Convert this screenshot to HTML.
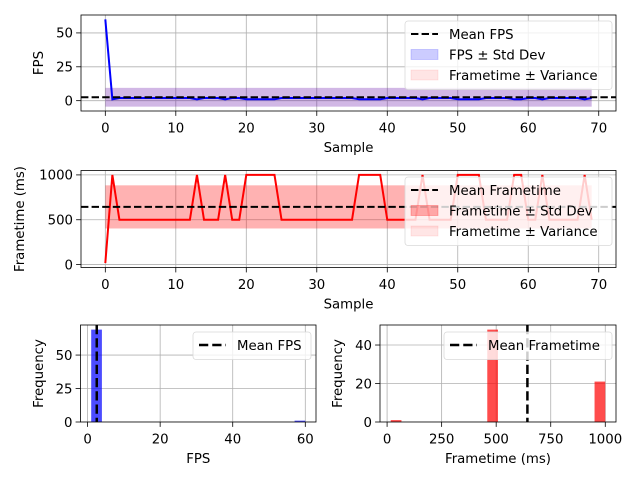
<!DOCTYPE html>
<html><head><meta charset="utf-8"><style>
html,body{margin:0;padding:0;background:#fff}
svg{display:block;font-family:"DejaVu Sans","Liberation Sans",sans-serif}
</style></head><body>
<svg id="chart" width="640" height="480" viewBox="0 0 640 480" xmlns="http://www.w3.org/2000/svg"></svg>
<script>
// ---- data ----
const frametimes = [16.67,1000,500,500,500,500,500,500,500,500,500,500,500,1000,500,500,500,1000,500,500,1000,1000,1000,1000,1000,500,500,500,500,500,500,500,500,500,500,500,1000,1000,1000,1000,500,500,500,500,500,1000,500,500,500,500,1000,1000,1000,1000,500,500,500,500,1000,1000,500,500,1000,500,500,500,500,500,1000,500];
const fpsValues = frametimes.map(f => Math.round(1000 / f));
const fpsHistCounts = [69,0,0,0,0,0,0,0,0,0,0,0,0,0,0,0,0,0,0,1];
const ftHistCounts = [1,0,0,0,0,0,0,0,0,48,0,0,0,0,0,0,0,0,0,21];
const sampleTicks = [0,10,20,30,40,50,60,70];
const fpsTicks = [0,25,50];
const ftTicks = [0,500,1000];
const fpsHistXTicks = [0,20,40,60];
const fpsHistYTicks = [0,25,50];
const ftHistXTicks = [0,250,500,750,1000];
const ftHistYTicks = [0,20,40];

const NS = "http://www.w3.org/2000/svg";
const svg = document.getElementById('chart');
function el(tag, attrs, parent, name) {
  const e = document.createElementNS(NS, tag);
  for (const k in attrs) e.setAttribute(k, attrs[k]);
  
  
  (parent || svg).appendChild(e);
  return e;
}
function txt(s, attrs, parent, name) { const t = el('text', attrs, parent, name); t.textContent = s; return t; }
function stats(a) { const m = a.reduce((x, y) => x + y, 0) / a.length; const v = a.reduce((x, y) => x + (y - m) * (y - m), 0) / a.length; return { m, v, s: Math.sqrt(v) }; }

function makeAxes(box, xr, yr, name) {
  const g = el('g', {}, svg, name);
  const sx = v => box.x + (v - xr[0]) / (xr[1] - xr[0]) * box.w;
  const sy = v => box.y + box.h - (v - yr[0]) / (yr[1] - yr[0]) * box.h;
  const clip = el('clipPath', { id: name + '-clip' }, g, name + '-clip');
  el('rect', { x: box.x, y: box.y, width: box.w, height: box.h }, clip, name + '-clip-rect');
  const plot = el('g', { 'clip-path': 'url(#' + name + '-clip)' }, g, name + '-plot');
  return { g, plot, sx, sy, box };
}
function grid(ax, xt, yt, xlabel, ylabel, ylx) {
  const b = ax.box;
  xt.forEach(t => {
    const x = ax.sx(t);
    el('line', { x1: x, x2: x, y1: b.y, y2: b.y + b.h, stroke: '#b0b0b0', 'stroke-width': 0.8 }, ax.plot, 'x-grid-line');
    el('line', { x1: x, x2: x, y1: b.y + b.h, y2: b.y + b.h + 4.9, stroke: '#000', 'stroke-width': 0.8 }, ax.g, 'x-tick');
    txt(String(t), { x: x, y: b.y + b.h + 21.5, 'font-size': 13.3, 'text-anchor': 'middle' }, ax.g, 'x-tick-label');
  });
  yt.forEach(t => {
    const y = ax.sy(t);
    el('line', { x1: b.x, x2: b.x + b.w, y1: y, y2: y, stroke: '#b0b0b0', 'stroke-width': 0.8 }, ax.plot, 'y-grid-line');
    el('line', { x1: b.x - 4.9, x2: b.x, y1: y, y2: y, stroke: '#000', 'stroke-width': 0.8 }, ax.g, 'y-tick');
    txt(String(t), { x: b.x - 8, y: y + 4.8, 'font-size': 13.3, 'text-anchor': 'end' }, ax.g, 'y-tick-label');
  });
  txt(xlabel, { x: b.x + b.w / 2, y: b.y + b.h + 41, 'font-size': 13.3, 'text-anchor': 'middle' }, ax.g, 'x-axis-title');
  txt(ylabel, { x: ylx, y: b.y + b.h / 2, 'font-size': 13.3, 'text-anchor': 'middle', transform: 'rotate(-90 ' + ylx + ' ' + (b.y + b.h / 2) + ')' }, ax.g, 'y-axis-title');
}
function frame(ax) { const b = ax.box; el('rect', { x: b.x, y: b.y, width: b.w, height: b.h, fill: 'none', stroke: '#000', 'stroke-width': 0.8 }, ax.g, 'axes-frame'); }
function legend(ax, x, y, w, items) {
  const h = items.length * 20.5 + 7;
  const lg = el('g', {}, ax.g, 'legend');
  el('rect', { x, y, width: w, height: h, rx: 3, fill: '#fff', 'fill-opacity': 0.8, stroke: '#d9d9d9', 'stroke-width': 0.8 }, lg, 'legend-frame');
  items.forEach((it, i) => {
    const cy = y + 13 + i * 20.5;
    if (it.type === 'line') el('line', { x1: x + 6, x2: x + 33, y1: cy, y2: cy, stroke: '#000', 'stroke-width': it.w || 2, 'stroke-dasharray': it.dash }, lg, 'legend-line');
    else el('rect', { x: x + 6, y: cy - 5, width: 27, height: 10, fill: it.color, 'fill-opacity': it.op, stroke: it.color, 'stroke-opacity': it.op, 'stroke-width': 0.8 }, lg, 'legend-patch');
    txt(it.label, { x: x + 44, y: cy + 4.8, 'font-size': 13.3 }, lg, 'legend-entry');
  });
}

const n = frametimes.length;
const fs = stats(fpsValues), ts = stats(frametimes);

// ---- top: FPS line ----
{
  const ymin = fs.m - fs.s, ymax = Math.max(...fpsValues);
  const pad = (ymax - ymin) * 0.05, xpad = (n - 1) * 0.05;
  const ax = makeAxes({ x: 81, y: 15, w: 535, h: 96 }, [-xpad, n - 1 + xpad], [ymin - pad, ymax + pad], 'fps-line-axes');
  grid(ax, sampleTicks, fpsTicks, 'Sample', 'FPS', 43);
  el('rect', { x: ax.sx(0), y: ax.sy(fs.m + fs.s), width: ax.sx(n - 1) - ax.sx(0), height: ax.sy(fs.m - fs.s) - ax.sy(fs.m + fs.s), fill: 'blue', 'fill-opacity': 0.2 }, ax.plot, 'fps-std-band');
  el('rect', { x: ax.sx(0), y: ax.sy(fs.m + fs.s), width: ax.sx(n - 1) - ax.sx(0), height: ax.sy(fs.m - fs.s) - ax.sy(fs.m + fs.s), fill: 'red', 'fill-opacity': 0.1 }, ax.plot, 'fps-variance-band');
  el('polyline', { points: fpsValues.map((v, i) => ax.sx(i) + ',' + ax.sy(v)).join(' '), fill: 'none', stroke: 'blue', 'stroke-width': 2 }, ax.plot, 'fps-line');
  el('line', { x1: ax.box.x, x2: ax.box.x + ax.box.w, y1: ax.sy(fs.m), y2: ax.sy(fs.m), stroke: '#000', 'stroke-width': 2, 'stroke-dasharray': '7.4,3.2' }, ax.plot, 'mean-fps-line');
  frame(ax);
  legend(ax, 405, 21, 207, [{ type: 'line', dash: '7.4,3.2', label: 'Mean FPS' }, { type: 'patch', color: 'blue', op: 0.2, label: 'FPS ± Std Dev' }, { type: 'patch', color: 'red', op: 0.1, label: 'Frametime ± Variance' }]);
}
// ---- middle: frametime line ----
{
  const ymin = Math.min(...frametimes), ymax = Math.max(...frametimes);
  const pad = (ymax - ymin) * 0.05, xpad = (n - 1) * 0.05;
  const ax = makeAxes({ x: 81, y: 170.5, w: 535, h: 97 }, [-xpad, n - 1 + xpad], [ymin - pad, ymax + pad], 'frametime-line-axes');
  grid(ax, sampleTicks, ftTicks, 'Sample', 'Frametime (ms)', 24);
  el('rect', { x: ax.sx(0), y: ax.sy(ts.m + ts.s), width: ax.sx(n - 1) - ax.sx(0), height: ax.sy(ts.m - ts.s) - ax.sy(ts.m + ts.s), fill: 'red', 'fill-opacity': 0.3 }, ax.plot, 'frametime-std-band');
  el('polyline', { points: frametimes.map((v, i) => ax.sx(i) + ',' + ax.sy(v)).join(' '), fill: 'none', stroke: 'red', 'stroke-width': 2 }, ax.plot, 'frametime-line');
  el('line', { x1: ax.box.x, x2: ax.box.x + ax.box.w, y1: ax.sy(ts.m), y2: ax.sy(ts.m), stroke: '#000', 'stroke-width': 2, 'stroke-dasharray': '7.4,3.2' }, ax.plot, 'mean-frametime-line');
  frame(ax);
  legend(ax, 405, 177, 207, [{ type: 'line', dash: '7.4,3.2', label: 'Mean Frametime' }, { type: 'patch', color: 'red', op: 0.3, label: 'Frametime ± Std Dev' }, { type: 'patch', color: 'red', op: 0.1, label: 'Frametime ± Variance' }]);
}
// ---- histograms ----
function hist(box, values, counts, color, xt, yt, xlabel, ylx, name, mean, lx, lw, llabel) {
  const lo = Math.min(...values), hi = Math.max(...values), bw = (hi - lo) / counts.length;
  const pad = (hi - lo) * 0.05, cmax = Math.max(...counts);
  const ax = makeAxes(box, [lo - pad, hi + pad], [0, cmax * 1.05], name);
  grid(ax, xt, yt, xlabel, 'Frequency', ylx);
  counts.forEach((c, i) => {
    if (!c) return;
    el('rect', { x: ax.sx(lo + i * bw), y: ax.sy(c), width: ax.sx(lo + bw) - ax.sx(lo), height: ax.sy(0) - ax.sy(c), fill: color, 'fill-opacity': 0.7 }, ax.plot, 'hist-bar');
  });
  el('line', { x1: ax.sx(mean), x2: ax.sx(mean), y1: box.y, y2: box.y + box.h, stroke: '#000', 'stroke-width': 2.5, 'stroke-dasharray': '9.25,4' }, ax.plot, 'mean-line');
  frame(ax);
  legend(ax, lx, 332, lw, [{ type: 'line', dash: '9.25,4', w: 2.5, label: llabel }]);
}
hist({ x: 80.5, y: 325, w: 235.5, h: 97 }, fpsValues, fpsHistCounts, 'blue', fpsHistXTicks, fpsHistYTicks, 'FPS', 43, 'fps-histogram', fs.m, 193, 118, 'Mean FPS');
hist({ x: 380, y: 325, w: 236, h: 97 }, frametimes, ftHistCounts, 'red', ftHistXTicks, ftHistYTicks, 'Frametime (ms)', 342, 'frametime-histogram', ts.m, 444, 168, 'Mean Frametime');
</script>
</body></html>
